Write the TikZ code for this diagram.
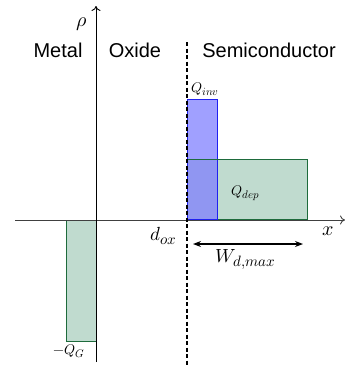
\documentclass[tikz,border=0pt]{standalone}
\usepackage{fontspec}
\usepackage{unicode-math}
\setmathfont{Latin Modern Math}
\DeclareMathSizes{14}{14}{11}{8}
\DeclareMathSizes{19}{19}{15}{11}
\DeclareMathSizes{20}{20}{15}{11}
\newfontfamily\labfont{Liberation Sans}
\usetikzlibrary{arrows.meta}
\definecolor{gfill}{HTML}{C0DBCF}
\definecolor{gline}{HTML}{1E6B3C}
\definecolor{bfill}{HTML}{8080FF}
\definecolor{bline}{HTML}{2020F0}
\tikzset{
  P/.style={x=1pt,y=-1pt},
  axis/.style={line width=0.9pt,-{To[length=5pt,width=9pt]}},
  region/.style={font=\labfont\fontsize{20}{24}\selectfont,anchor=base},
  greenbox/.style={fill=gfill,draw=gline,line width=1pt},
  bluebox/.style={fill=bfill,fill opacity=0.75,draw=bline,line width=1pt},
  mlab/.style={inner sep=0pt,anchor=base west},
  msmall/.style={mlab,font=\fontsize{14}{16}\selectfont},
  mmid/.style={mlab,font=\fontsize{19}{22}\selectfont},
  mbig/.style={mlab,font=\fontsize{20}{23}\selectfont}
}
\begin{document}
\begin{tikzpicture}[P]
\useasboundingbox (0,0) rectangle (345,365);
% boxes
\node[greenbox,minimum width=30pt,minimum height=121pt,inner sep=0pt,anchor=north west] (mg) at (66,220) {};
\node[greenbox,minimum width=120pt,minimum height=60pt,inner sep=0pt,anchor=south west] (dep) at (187,220) {};
\node[bluebox,minimum width=30pt,minimum height=120pt,inner sep=0pt,anchor=south west] (inv) at (187,220) {};
\draw[gline,line width=1pt] (dep.north west) -- (dep.north east);
% axes
\coordinate (xs) at (15,220);
\coordinate (xe) at (345,220);
\coordinate (ys) at (96,362);
\coordinate (ye) at (96,6);
\draw[axis,black!75] (xs) -- (xe);
\draw[axis] (ys) -- (ye);
% dashed interface
\coordinate (ds) at (187,42);
\coordinate (de) at (187,365);
\draw[line width=1.5pt,dash pattern=on 4pt off 2.5pt] (ds) -- (de);
% labels
\node[mbig] (rho) at (76,26) {$\rho$};
\node[region] (metal) at (58,57) {Metal};
\node[region] (oxide) at (135,57) {Oxide};
\node[region] (semi) at (269,57) {Semiconductor};
\node[msmall] (qinv) at (191,92) {$Q_{inv}$};
\node[msmall] (qdep) at (231,195) {$Q_{dep}$};
\node[mmid] (dox) at (150,240) {$d_{ox}$};
\node[mbig] (xl) at (322,235) {$x$};
\node[msmall] (qg) at (53,354) {$-Q_G$};
\coordinate (wa) at (193,244);
\coordinate (wb) at (303,244);
\draw[line width=1.2pt,{Stealth[length=8pt,width=6pt]}-{Stealth[length=8pt,width=6pt]}] (wa) -- (wb);
\node[mmid] (wd) at (215,262) {$W_{d,max}$};
\end{tikzpicture}
\end{document}
